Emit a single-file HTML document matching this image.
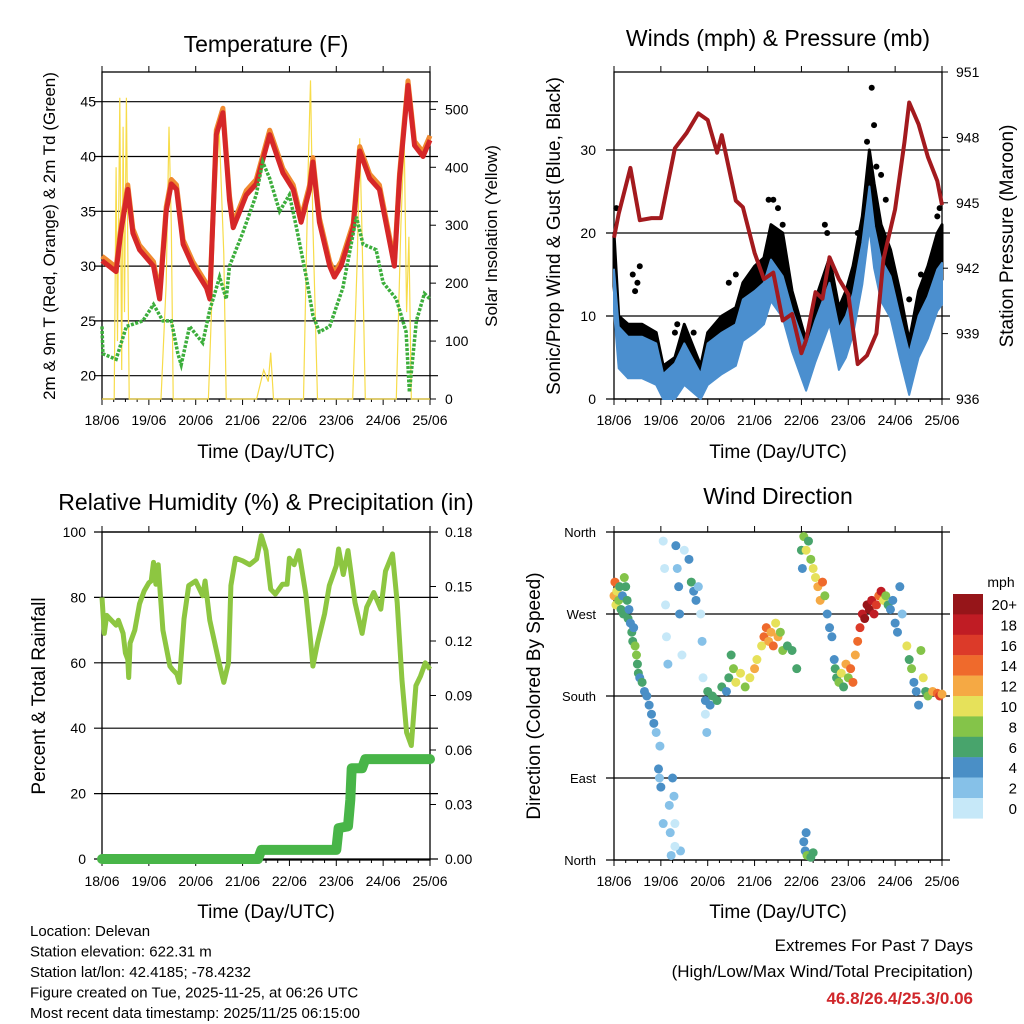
<!DOCTYPE html>
<html><head><meta charset="utf-8"><style>
html,body{margin:0;padding:0;background:#fff;}
svg{display:block;font-family:"Liberation Sans",Arial,sans-serif;}
</style></head><body>
<svg id="chart" width="1024" height="1024" viewBox="0 0 1024 1024"></svg>
<script>
// ---------- DATA ----------
const dayLabels = ["18/06","19/06","20/06","21/06","22/06","23/06","24/06","25/06"];
const tempT = [0,0.3,0.4,0.55,0.66,0.8,1.1,1.23,1.37,1.48,1.59,1.73,1.94,2.23,2.3,2.44,2.58,2.72,2.8,2.94,3.08,3.29,3.58,3.86,4.08,4.25,4.43,4.5,4.64,4.86,4.96,5.1,5.36,5.5,5.71,5.92,6.24,6.35,6.53,6.67,6.85,7];
const tempV = [30.5,29.5,33,37,33,31.5,30,27,35,37.5,37,32,30,28,27,42,44,36,33.5,35,36.5,37.5,42,38.5,37,34,37,39.5,34,30,29,30,33.5,40.5,38,37,30,38,46.5,41,40,41.5];
const dewT = [0,0.02,0.3,0.52,0.87,1.1,1.3,1.48,1.62,1.69,1.87,2.15,2.3,2.51,2.65,2.72,3.0,3.29,3.43,3.58,3.79,4.0,4.15,4.36,4.5,4.64,4.86,5.14,5.43,5.57,5.85,6.0,6.28,6.49,6.56,6.71,6.88,7];
const dewV = [24.5,22,21.5,24.5,25,26.5,25,25,22,21,24.5,23,26,29,27,30,33,36.5,39.5,38,35,36.5,33.5,29,25.5,24,24.5,28,34.5,32,31.5,28.5,27,24,18.5,25,27.5,27];
const solT = [0,0.26,0.3,0.33,0.38,0.42,0.45,0.48,0.52,0.58,1.26,1.37,1.43,1.48,1.52,2.27,2.4,2.5,2.6,2.65,3.3,3.45,3.55,3.6,3.66,4.3,4.4,4.45,4.5,4.55,4.6,5.35,5.45,5.5,5.55,5.62,6.28,6.38,6.45,6.5,6.55,6.6,7];
const solV = [0,0,400,100,520,50,470,150,520,0,0,200,470,300,0,0,300,470,250,0,0,50,30,80,0,0,400,550,300,150,0,0,250,450,280,0,0,300,450,150,280,0,0];
const windT = [0,0.1,0.3,0.6,0.9,1.05,1.3,1.5,1.85,2.0,2.3,2.6,2.75,3.0,3.2,3.35,3.6,3.8,4.1,4.3,4.6,4.8,4.95,5.1,5.3,5.45,5.55,5.7,5.9,6.1,6.3,6.5,6.7,6.9,7.0];
const windV = [13.6,6.7,5.5,5.5,4.7,1,2.3,4.7,1,4.7,6,7,10,11,12,14.8,12.8,8.7,4,7.5,12,6.5,8,10.7,16.8,23.6,18.8,14.8,12.8,8,3.5,8,10.3,13.6,14.4];
const gustV = [20,10,9,9,8,4,5,9,4,8,10,11,14,16,17,21,20,13,7,12,17,11,13,16,22,30,26,21,18,13,7,13,16,20,21];
const gustPeakT = [0.05,0.4,0.45,0.5,0.55,1.3,1.35,1.7,2.45,2.6,2.8,3.3,3.4,3.5,3.6,4.5,4.55,5.2,5.4,5.5,5.55,5.6,5.7,5.8,6.3,6.55,6.9,6.95];
const gustPeakV = [23,15,13,14,16,8,9,8,14,15,14,24,24,23,21,21,20,20,31,37.5,33,28,27,24,12,15,22,23];
const presT = [0,0.1,0.35,0.55,0.8,1.0,1.3,1.55,1.8,2.0,2.2,2.3,2.6,2.75,3.0,3.2,3.4,3.6,3.8,4.0,4.1,4.3,4.45,4.6,4.8,5.0,5.2,5.4,5.6,5.75,6.0,6.2,6.3,6.5,6.7,6.9,7.0];
const presV = [943.4,944.5,946.6,944.2,944.3,944.3,947.5,948.2,949.1,948.8,947.3,948.1,945.1,944.8,942.7,941.5,941.8,939.6,939.9,938.1,938.7,940.9,940.6,942.5,941.5,940.8,937.6,938,939,942.4,944.7,947.8,949.6,948.6,947.1,946,944.9];
const rhT = [0,0.05,0.1,0.3,0.35,0.45,0.5,0.55,0.57,0.6,0.7,0.8,0.9,1.0,1.05,1.1,1.15,1.2,1.3,1.45,1.5,1.6,1.65,1.75,1.85,2.0,2.15,2.2,2.3,2.5,2.6,2.7,2.75,2.85,3.0,3.15,3.3,3.4,3.5,3.6,3.7,3.85,3.95,4.0,4.1,4.2,4.35,4.45,4.5,4.6,4.75,4.85,5.0,5.05,5.15,5.25,5.4,5.55,5.65,5.8,5.95,6.05,6.2,6.3,6.4,6.5,6.6,6.7,6.8,6.9,7.0];
const rhV = [80,69,74.5,71.5,73,69,63,61,55.5,66,70,78,82,84.5,85,90.7,84,90,70,59,58,56.5,54,73.4,83.6,85,80.5,85,73,60,54,60,83.6,92,91.2,90,91.7,98.9,94.3,82.5,81,84,84,92,90,94.3,81,67,59,66,75,83.6,89.7,94.8,87,94.3,78.4,69,77,81.5,76.4,88,93.3,78.4,55,38.7,34.7,53,56,60,58];
const prT = [0,3.33,3.4,5.0,5.05,5.25,5.3,5.33,5.55,5.62,7];
const prV = [0,0,0.005,0.005,0.017,0.018,0.0325,0.05,0.05,0.055,0.055];
const wdT = [0,0.02,0.04,0.06,0.1,0.12,0.15,0.18,0.2,0.22,0.25,0.28,0.3,0.32,0.35,0.38,0.4,0.42,0.45,0.48,0.5,0.52,0.55,0.6,0.65,0.7,0.75,0.8,0.85,0.9,0.95,0.97,1.0,0.98,1.05,1.08,1.1,1.12,1.15,1.18,1.2,1.22,1.25,1.28,1.3,1.32,1.35,1.38,1.4,1.42,1.45,1.5,1.6,1.65,1.7,1.75,1.8,1.85,1.88,1.9,1.95,1.98,1.95,2.0,2.05,2.1,2.2,2.3,2.4,2.45,2.5,2.55,2.6,2.7,2.8,2.9,3.0,3.05,3.15,3.2,3.25,3.3,3.35,3.4,3.45,3.5,3.55,3.6,3.7,3.8,3.9,4.0,4.02,4.05,4.1,4.15,4.2,4.25,4.3,4.35,4.4,4.45,4.5,4.55,4.6,4.65,4.7,4.72,4.75,4.8,4.85,4.9,4.95,5.0,5.05,5.1,5.15,5.2,5.25,5.3,5.35,5.4,5.45,5.5,5.55,5.6,5.65,5.7,5.75,5.8,5.85,5.9,5.95,6.0,6.05,6.1,6.15,6.25,6.3,6.35,6.4,6.45,6.5,6.55,6.6,6.65,6.7,6.8,6.9,6.95,7.0,4.05,4.08,4.1,4.12,4.2,4.25,1.05,1.3];
const wdDir = [290,305,280,295,285,300,275,290,270,310,300,285,265,275,260,250,240,255,235,225,215,205,200,195,185,180,170,160,150,140,100,90,80,125,350,320,280,245,215,60,30,5,90,70,40,345,320,300,270,10,225,340,330,305,295,285,300,270,240,200,160,140,175,185,170,180,175,190,185,200,225,210,195,205,190,200,210,220,235,245,255,240,250,235,260,245,250,230,235,230,210,340,320,355,340,350,330,320,310,300,285,305,290,270,255,245,220,210,200,195,205,190,215,200,210,195,225,240,255,270,265,280,275,285,270,280,290,295,285,290,280,275,285,260,250,300,270,235,220,210,195,185,170,230,200,185,180,185,183,180,182,20,10,30,5,3,8,40,15];
const wdSpd = [13,14,11,10,8,7,6,5,7,8,7,6,6,5,4,6,7,5,8,9,6,7,5,6,5,4,4,4,4,3,4,3,4,2,1,1,1,0,2,2,3,3,5,3,1,4,3,4,4,2,1,1,4,6,5,4,3,1,2,1,1,2,5,6,5,6,7,6,5,7,6,8,10,10,9,11,12,11,10,14,15,13,12,14,10,12,9,8,7,6,7,6,5,8,10,7,9,11,10,12,13,14,8,4,4,4,4,6,7,9,10,6,12,8,14,15,12,14,16,18,20,21,20,19,18,17,14,18,10,8,6,4,4,4,5,4,3,10,6,8,5,4,5,9,11,7,8,13,14,17,13,4,5,4,9,7,6,3,1];
const cbLabels = ["20+","18","16","14","12","10","8","6","4","2","0"];
const cbColors = ["#961519","#c01c24","#dc3a29","#ef6a2c","#f5a944","#e6e15a","#84c449","#48a46c","#4a8fc6","#86c1e8","#c6e8f8"];

// ---------- HELPERS ----------
const NS="http://www.w3.org/2000/svg";
const svg=document.getElementById('chart');
function mk(tag,attrs,name,inter,parent){
  const el=document.createElementNS(NS,tag);
  for(const k in attrs) el.setAttribute(k,attrs[k]);
  
  
  (parent||svg).appendChild(el);
  return el;
}
function txt(x,y,s,size,name,opt){
  opt=opt||{};
  const a={x:x,y:y,'font-size':size,fill:opt.fill||'#000','text-anchor':opt.anchor||'middle'};
  if(opt.weight) a['font-weight']=opt.weight;
  if(opt.rot){a.transform='rotate(-90 '+x+' '+y+')';}
  const t=mk('text',a,name,false);
  t.textContent=s;return t;
}
function panel(p){
  const g=mk('g',{},p.name,false);
  const xs=d=>p.x0+(p.x1-p.x0)*d/7;
  p.grid.forEach(v=>{const y=p.yl(v);mk('line',{x1:p.x0-8,x2:p.x1+8,y1:y,y2:y,stroke:'#000','stroke-width':1.2},'grid-line',false,g);});
  mk('rect',{x:p.x0,y:p.y0,width:p.x1-p.x0,height:p.y1-p.y0,fill:'none',stroke:'#000','stroke-width':1.3},'plot-frame',false,g);
  dayLabels.forEach((l,i)=>{const x=xs(i);
    mk('line',{x1:x,x2:x,y1:p.y1,y2:p.y1+6,stroke:'#000'},'x-tick',false,g);
    mk('line',{x1:x,x2:x,y1:p.y0,y2:p.y0-6,stroke:'#000'},'x-tick-top',false,g);
    txt(x,p.y1+26,l,14,'x-tick-label');});
  for(let i=0;i<7;i++){for(let j=1;j<4;j++){const x=xs(i+j/4);mk('line',{x1:x,x2:x,y1:p.y1,y2:p.y1+3,stroke:'#000'},'x-minor-tick',false,g);}}
  return {g,xs};
}
function pathFrom(T,V,xs,ys){return T.map((t,i)=>(i?'L':'M')+xs(t).toFixed(1)+' '+ys(V[i]).toFixed(1)).join(' ');}
function bandFrom(T,lo,hi,xs,ys){
  let d=T.map((t,i)=>(i?'L':'M')+xs(t).toFixed(1)+' '+ys(hi[i]).toFixed(1)).join(' ');
  for(let i=T.length-1;i>=0;i--) d+=' L'+xs(T[i]).toFixed(1)+' '+ys(lo[i]).toFixed(1);
  return d+' Z';
}

// ---------- PANEL 1 TEMPERATURE ----------
(function(){
  const p={name:'temperature-panel',x0:102,x1:430,y0:72,y1:399,grid:[20,25,30,35,40,45]};
  p.yl=v=>375.7-(v-20)*10.96;
  const ys2=v=>399-v*0.5793;
  const {g,xs}=panel(p);
  [20,25,30,35,40,45].forEach(v=>txt(96,p.yl(v)+5,String(v),14,'y-left-tick-label',{anchor:'end'}));
  [0,100,200,300,400,500].forEach(v=>{mk('line',{x1:430,x2:436,y1:ys2(v),y2:ys2(v),stroke:'#000'},'y-right-tick',false,g);txt(445,ys2(v)+5,String(v),14,'y-right-tick-label',{anchor:'start'});});
  mk('path',{d:pathFrom(solT,solV,xs,ys2),fill:'none',stroke:'#f7dc4a','stroke-width':1.2},'solar-insolation-line',false,g);
  mk('path',{d:pathFrom(tempT,tempV.map(v=>v+0.4),xs,p.yl),fill:'none',stroke:'#f08a30','stroke-width':5,'stroke-linejoin':'round'},'temp-9m-line',false,g);
  mk('path',{d:pathFrom(tempT,tempV,xs,p.yl),fill:'none',stroke:'#d62728','stroke-width':5,'stroke-linejoin':'round'},'temp-2m-line',false,g);
  mk('path',{d:pathFrom(dewT,dewV,xs,p.yl),fill:'none',stroke:'#3cae3c','stroke-width':3.5,'stroke-dasharray':'3 1.5'},'dewpoint-line',false,g);
  txt(266,52,'Temperature (F)',23,'temperature-title');
  txt(266,458,'Time (Day/UTC)',19,'x-axis-title');
  txt(55,236,'2m & 9m T (Red, Orange) & 2m Td (Green)',17,'y-left-axis-title',{rot:true});
  txt(497,236,'Solar Insolation (Yellow)',17,'y-right-axis-title',{rot:true});
})();

// ---------- PANEL 2 WINDS ----------
(function(){
  const p={name:'winds-panel',x0:614,x1:942,y0:72,y1:399,grid:[0,10,20,30]};
  p.yl=v=>399-v*8.3;
  const ys2=v=>399-(v-936)*21.8;
  const {g,xs}=panel(p);
  [0,10,20,30].forEach(v=>txt(596,p.yl(v)+5,String(v),14,'y-left-tick-label',{anchor:'end'}));
  [936,939,942,945,948,951].forEach(v=>{mk('line',{x1:942,x2:948,y1:ys2(v),y2:ys2(v),stroke:'#000'},'y-right-tick',false,g);txt(956,ys2(v)+5,String(v),14,'y-right-tick-label',{anchor:'start'});});
  mk('path',{d:bandFrom(windT,windV,gustV,xs,p.yl),fill:'#000',stroke:'#000','stroke-width':3,'stroke-linejoin':'round'},'gust-band',false,g);
  gustPeakT.forEach((t,i)=>{mk('circle',{cx:xs(t),cy:p.yl(gustPeakV[i]),r:3,fill:'#000'},'gust-point',false,g);});
  mk('path',{d:bandFrom(windT,windV.map(v=>Math.max(0,v-3)),windV.map(v=>v+2),xs,p.yl),fill:'#4b8fcf',stroke:'#4b8fcf','stroke-width':2,'stroke-linejoin':'round'},'wind-speed-band',false,g);
  mk('path',{d:pathFrom(presT,presV,xs,ys2),fill:'none',stroke:'#a31a1e','stroke-width':4,'stroke-linejoin':'round'},'pressure-line',false,g);
  txt(778,46,'Winds (mph) & Pressure (mb)',23,'winds-title');
  txt(778,458,'Time (Day/UTC)',19,'x-axis-title');
  txt(560,236,'Sonic/Prop Wind & Gust (Blue, Black)',19,'y-left-axis-title',{rot:true});
  txt(1013,236,'Station Pressure (Maroon)',19,'y-right-axis-title',{rot:true});
})();

// ---------- PANEL 3 RH ----------
(function(){
  const p={name:'humidity-panel',x0:102,x1:430,y0:532,y1:860,grid:[0,20,40,60,80,100]};
  p.yl=v=>859-v*3.27;
  const ys2=v=>859-v/0.18*327;
  const {g,xs}=panel(p);
  [0,20,40,60,80,100].forEach(v=>txt(86,p.yl(v)+5,String(v),14,'y-left-tick-label',{anchor:'end'}));
  [0,0.03,0.06,0.09,0.12,0.15,0.18].forEach(v=>{mk('line',{x1:430,x2:436,y1:ys2(v),y2:ys2(v),stroke:'#000'},'y-right-tick',false,g);txt(445,ys2(v)+5,v.toFixed(2),14,'y-right-tick-label',{anchor:'start'});});
  mk('path',{d:pathFrom(rhT,rhV,xs,p.yl),fill:'none',stroke:'#8dc641','stroke-width':5,'stroke-linejoin':'round'},'rh-line',false,g);
  mk('path',{d:pathFrom(prT,prV,xs,ys2),fill:'none',stroke:'#48b548','stroke-width':10,'stroke-linejoin':'round','stroke-linecap':'round'},'precip-line',false,g);
  txt(266,510,'Relative Humidity (%) & Precipitation (in)',23,'humidity-title');
  txt(266,918,'Time (Day/UTC)',19,'x-axis-title');
  txt(45,696,'Percent & Total Rainfall',19,'y-left-axis-title',{rot:true});
})();

// ---------- PANEL 4 WIND DIRECTION ----------
(function(){
  const p={name:'wind-direction-panel',x0:614,x1:942,y0:532,y1:860,grid:[0,90,180,270,360]};
  p.yl=v=>860-v*328/360;
  const {g,xs}=panel(p);
  const dl=['North','East','South','West','North'];
  [0,90,180,270,360].forEach((v,i)=>txt(596,p.yl(v)+5,dl[i],13,'y-tick-label',{anchor:'end'}));
  const col=s=>cbColors[10-Math.min(10,Math.floor(s/2))];
  wdT.forEach((t,i)=>{
    mk('circle',{cx:xs(t),cy:p.yl(wdDir[i]),r:4.5,fill:col(wdSpd[i])},'direction-point',false,g);
  });
  txt(1001,587,'mph',14,'colorbar-title');
  cbColors.forEach((c,i)=>{
    mk('rect',{x:953,y:594+i*20.4,width:30,height:20.6,fill:c},'colorbar-box',false,g);
    txt(1017,594+i*20.4+16,cbLabels[i],15,'colorbar-label',{anchor:'end'});
  });
  txt(778,504,'Wind Direction',23,'wind-direction-title');
  txt(778,918,'Time (Day/UTC)',19,'x-axis-title');
  txt(540,696,'Direction (Colored By Speed)',19,'y-axis-title',{rot:true});
})();

// ---------- FOOTER ----------
["Location: Delevan","Station elevation: 622.31 m","Station lat/lon: 42.4185; -78.4232","Figure created on Tue, 2025-11-25, at 06:26 UTC","Most recent data timestamp: 2025/11/25 06:15:00"]
 .forEach((s,i)=>txt(30,936+i*20.5,s,15,'station-info-line',{anchor:'start'}));
txt(973,951,'Extremes For Past 7 Days',17,'extremes-title',{anchor:'end'});
txt(973,977,'(High/Low/Max Wind/Total Precipitation)',17,'extremes-subtitle',{anchor:'end'});
txt(973,1004,'46.8/26.4/25.3/0.06',17,'extremes-values',{anchor:'end',fill:'#d0262a',weight:'bold'});
</script>
</body></html>
